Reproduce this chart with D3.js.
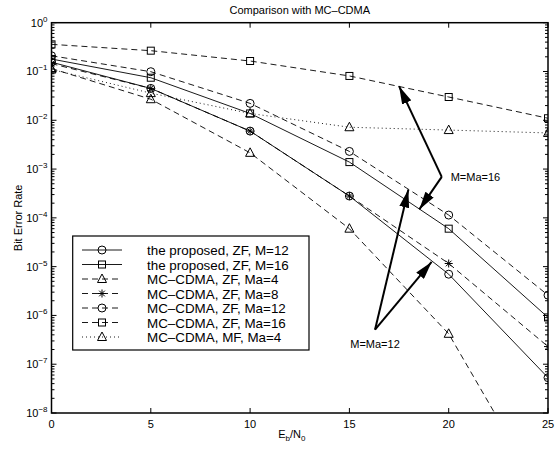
<!DOCTYPE html>
<html>
<head>
<meta charset="utf-8">
<title>Comparison with MC-CDMA</title>
<script src="https://cdn.jsdelivr.net/npm/d3@7"></script>
<style>
    body { margin: 0; background: #fff; }
    text { font-family: "Liberation Sans", Arial, Helvetica, sans-serif; fill: #000; }
</style>
</head>
<body>
<script>
// data
var snr = [0, 5, 10, 15, 20, 25];
var berPropM12 = [0.155, 0.045, 0.006, 2.8e-4, 7.0e-6, 5.3e-8];
var berPropM16 = [0.18, 0.0745, 0.0138, 1.39e-3, 6.0e-5, 9.1e-7];
var berZfMa4 = [0.115, 0.027, 0.00215, 6.0e-5, 4.2e-7, 1.3e-10];
var berZfMa8 = [0.145, 0.045, 0.006, 2.8e-4, 1.16e-5, 2.3e-7];
var berZfMa12 = [0.21, 0.099, 0.0222, 2.3e-3, 1.14e-4, 2.6e-6];
var berZfMa16 = [0.36, 0.267, 0.164, 0.081, 0.030, 0.011];
var berMfMa4 = [0.11, 0.036, 0.0138, 0.0072, 0.0063, 0.0055];

var xTicks = [0, 5, 10, 15, 20, 25];
var yExps = [0, -1, -2, -3, -4, -5, -6, -7, -8];

var series = [
    {name: "the proposed, ZF, M=12", v: berPropM12, dash: null, mk: "circle"},
    {name: "the proposed, ZF, M=16", v: berPropM16, dash: null, mk: "square"},
    {name: "MC\u2013CDMA, ZF, Ma=4", v: berZfMa4, dash: "6,4", mk: "triangle"},
    {name: "MC\u2013CDMA, ZF, Ma=8", v: berZfMa8, dash: "6,4", mk: "star"},
    {name: "MC\u2013CDMA, ZF, Ma=12", v: berZfMa12, dash: "6,4", mk: "circle"},
    {name: "MC\u2013CDMA, ZF, Ma=16", v: berZfMa16, dash: "6,4", mk: "square"},
    {name: "MC\u2013CDMA, MF, Ma=4", v: berMfMa4, dash: "1,3", mk: "triangle"}
];

// annotation arrows, in data units [snr, ber]
var arrow16 = {from: [19.65, 6.9e-4], to: [[17.5, 0.05], [18.52, 1.49e-4]], label: "M=Ma=16", at: [20.1, 6.9e-4]};
var arrow12 = {from: [16.29, 5.1e-7], to: [[17.97, 3.8e-4], [19.14, 1.25e-5]], label: "M=Ma=12", at: [16.29, 2.6e-7]};

var width = 557, height = 454;
var pL = 51.5, pR = 548, pT = 22.7, pB = 413;

var x = d3.scaleLinear().domain([0, 25]).range([pL, pR]);
var y = d3.scaleLog().domain([1e-8, 1]).range([pB, pT]);

var svg = d3.select("body").append("svg")
        .attr("width", width)
        .attr("height", height);

var defs = svg.append("defs");
defs.append("clipPath").attr("id", "plotclip")
    .append("rect").attr("x", pL).attr("y", pT)
    .attr("width", pR - pL).attr("height", pB - pT);
defs.append("marker").attr("id", "head")
    .attr("markerUnits", "userSpaceOnUse")
    .attr("viewBox", "0 0 18 10")
    .attr("refX", 18).attr("refY", 5)
    .attr("markerWidth", 18).attr("markerHeight", 10)
    .attr("orient", "auto")
    .append("path").attr("d", "M0,0 L18,5 L0,10 Z").attr("fill", "#000");

svg.append("rect").attr("width", width).attr("height", height).attr("fill", "#fff");

// ticks (inside, both sides)
var tk = svg.append("g").attr("stroke", "#000").attr("stroke-width", 1);
xTicks.forEach(function (t) {
    tk.append("line").attr("x1", x(t)).attr("x2", x(t)).attr("y1", pB).attr("y2", pB - 5);
    tk.append("line").attr("x1", x(t)).attr("x2", x(t)).attr("y1", pT).attr("y2", pT + 5);
});
yExps.forEach(function (e) {
    var v = Math.pow(10, e);
    tk.append("line").attr("x1", pL).attr("x2", pL + 5).attr("y1", y(v)).attr("y2", y(v));
    tk.append("line").attr("x1", pR).attr("x2", pR - 5).attr("y1", y(v)).attr("y2", y(v));
    if (e > -8) {
        for (var m = 2; m <= 9; m++) {
            var vm = m * Math.pow(10, e - 1);
            tk.append("line").attr("x1", pL).attr("x2", pL + 3).attr("y1", y(vm)).attr("y2", y(vm));
            tk.append("line").attr("x1", pR).attr("x2", pR - 3).attr("y1", y(vm)).attr("y2", y(vm));
        }
    }
});

// tick labels
xTicks.forEach(function (t) {
    svg.append("text").attr("x", x(t)).attr("y", pB + 15)
        .attr("text-anchor", "middle").attr("font-size", 11).text(t);
});
yExps.forEach(function (e) {
    var t = svg.append("text").attr("x", pL - 4).attr("y", y(Math.pow(10, e)) + 4)
        .attr("text-anchor", "end").attr("font-size", 11);
    t.append("tspan").text("10");
    t.append("tspan").attr("dy", -5).attr("font-size", 8).text(e === 0 ? "0" : "\u2212" + (-e));
});

// curves
var plot = svg.append("g").attr("clip-path", "url(#plotclip)");
var line = d3.line()
    .x(function (d) { return x(d[0]); })
    .y(function (d) { return y(d[1]); });

function drawMarker(g, kind, cx, cy) {
    if (kind === "circle") {
        g.append("circle").attr("cx", cx).attr("cy", cy).attr("r", 4)
            .attr("fill", "none").attr("stroke", "#000");
    } else if (kind === "square") {
        g.append("rect").attr("x", cx - 3.5).attr("y", cy - 3.5).attr("width", 7).attr("height", 7)
            .attr("fill", "none").attr("stroke", "#000");
    } else if (kind === "triangle") {
        g.append("path").attr("d", "M" + cx + "," + (cy - 5) + " L" + (cx + 4.5) + "," + (cy + 3.5) + " L" + (cx - 4.5) + "," + (cy + 3.5) + " Z")
            .attr("fill", "none").attr("stroke", "#000");
    } else if (kind === "star") {
        var r = 4;
        [0, 45, 90, 135].forEach(function (a) {
            var rad = a * Math.PI / 180;
            g.append("line")
                .attr("x1", cx - r * Math.cos(rad)).attr("y1", cy - r * Math.sin(rad))
                .attr("x2", cx + r * Math.cos(rad)).attr("y2", cy + r * Math.sin(rad))
                .attr("stroke", "#000");
        });
    }
}

series.forEach(function (s) {
    var pts = snr.map(function (d, i) { return [d, s.v[i]]; });
    plot.append("path").datum(pts).attr("d", line)
        .attr("fill", "none").attr("stroke", "#000").attr("stroke-width", 0.9)
        .attr("stroke-dasharray", s.dash);
    pts.forEach(function (p) {
        if (p[1] >= 1e-8) drawMarker(plot, s.mk, x(p[0]), y(p[1]));
    });
});

// box
svg.append("rect").attr("x", pL).attr("y", pT)
    .attr("width", pR - pL).attr("height", pB - pT)
    .attr("fill", "none").attr("stroke", "#000").attr("stroke-width", 1.5);

// annotations
[arrow16, arrow12].forEach(function (a) {
    a.to.forEach(function (t) {
        svg.append("line")
            .attr("x1", x(a.from[0])).attr("y1", y(a.from[1]))
            .attr("x2", x(t[0])).attr("y2", y(t[1]))
            .attr("stroke", "#000").attr("stroke-width", 2)
            .attr("marker-end", "url(#head)");
    });
});
svg.append("text").attr("x", x(arrow16.at[0])).attr("y", y(arrow16.at[1]) + 4)
    .attr("font-size", 11).text(arrow16.label);
svg.append("text").attr("x", x(arrow12.at[0])).attr("y", y(arrow12.at[1]) + 4)
    .attr("text-anchor", "middle").attr("font-size", 11).text(arrow12.label);

// legend
var lg = svg.append("g");
lg.append("rect").attr("x", 72.7).attr("y", 236).attr("width", 236.3).attr("height", 114)
    .attr("fill", "#fff").attr("stroke", "#000").attr("stroke-width", 1.2);
series.forEach(function (s, i) {
    var ly = 250 + i * 14.5;
    lg.append("line").attr("x1", 82).attr("x2", 122).attr("y1", ly).attr("y2", ly)
        .attr("stroke", "#000").attr("stroke-width", 0.9).attr("stroke-dasharray", s.dash);
    drawMarker(lg, s.mk, 102, ly);
    lg.append("text").attr("x", 147).attr("y", ly + 5).attr("font-size", 13.4).text(s.name);
});

// titles
svg.append("text").attr("x", (pL + pR) / 2).attr("y", 14)
    .attr("text-anchor", "middle").attr("font-size", 11).text("Comparison with MC\u2013CDMA");

var xl = svg.append("text").attr("x", (pL + pR) / 2 - 8).attr("y", 438)
    .attr("text-anchor", "middle").attr("font-size", 11);
xl.append("tspan").text("E");
xl.append("tspan").attr("dy", 3).attr("font-size", 8).text("b");
xl.append("tspan").attr("dy", -3).text("/N");
xl.append("tspan").attr("dy", 3).attr("font-size", 8).text("0");

svg.append("text").attr("transform", "translate(22," + ((pT + pB) / 2) + ") rotate(-90)")
    .attr("text-anchor", "middle").attr("font-size", 11).text("Bit Error Rate");
</script>
</body>
</html>
